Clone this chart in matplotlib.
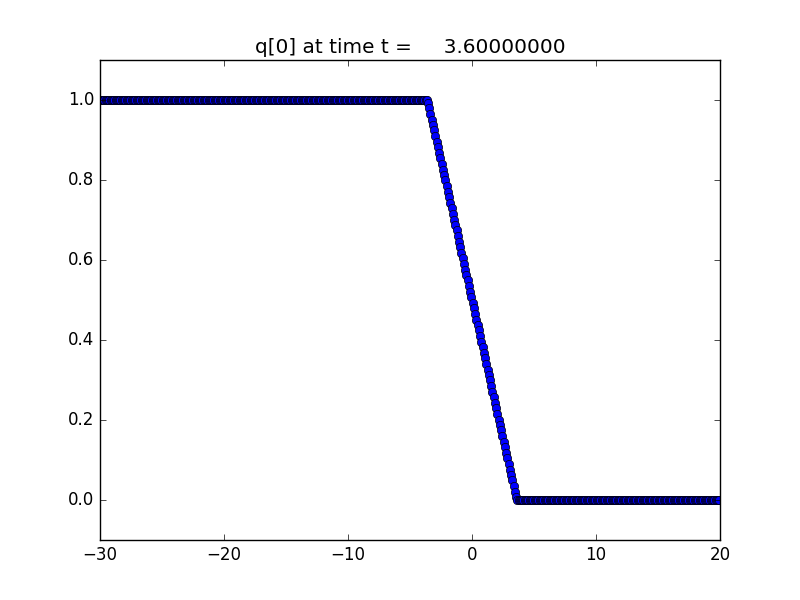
import numpy as np
import matplotlib
matplotlib.use("Agg")
import matplotlib.pyplot as plt

plt.style.use("classic")

# cell centres of the grid (dx = 0.1 on [-30, 20])
x = np.arange(500) * 0.1 - 29.95

# solution values
q_left = [1.0] * 264
q_ramp = [0.992, 0.979, 0.965, 0.951, 0.937, 0.924, 0.910, 0.896, 0.882, 0.868,
          0.854, 0.840, 0.826, 0.813, 0.799, 0.785, 0.771, 0.757, 0.743, 0.729,
          0.715, 0.701, 0.688, 0.674, 0.660, 0.646, 0.632, 0.618, 0.604, 0.590,
          0.576, 0.563, 0.549, 0.535, 0.521, 0.507, 0.493, 0.479, 0.465, 0.451,
          0.438, 0.424, 0.410, 0.396, 0.382, 0.368, 0.354, 0.340, 0.326, 0.313,
          0.299, 0.285, 0.271, 0.257, 0.243, 0.229, 0.215, 0.201, 0.188, 0.174,
          0.160, 0.146, 0.132, 0.118, 0.104, 0.090, 0.076, 0.063, 0.049, 0.035,
          0.021, 0.008]
q_right = [0.0] * 164
q = np.array(q_left + q_ramp + q_right)

t = 3.6

fig = plt.figure(figsize=(8, 6), dpi=100, facecolor="white")
ax = fig.add_subplot(111)
ax.plot(x, q, "bo")
ax.set_xlim(-30, 20)
ax.set_ylim(-0.1, 1.1)
ax.set_xticks([-30, -20, -10, 0, 10, 20])
ax.set_yticks([0.0, 0.2, 0.4, 0.6, 0.8, 1.0])
ax.set_title("q[0] at time t = %14.8f" % t)
fig.savefig("out.png", dpi=100, facecolor="white")
